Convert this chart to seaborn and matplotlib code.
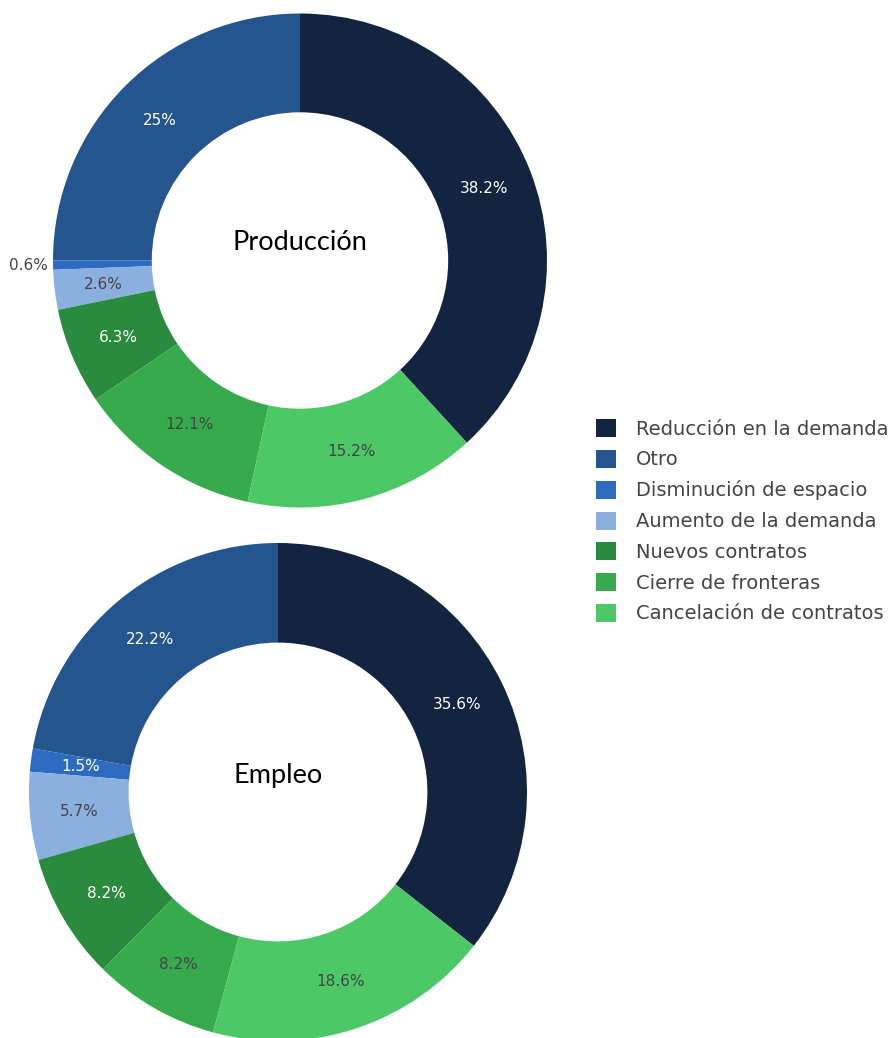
import matplotlib
matplotlib.use("Agg")
import matplotlib.pyplot as plt
from matplotlib.patches import Patch
import seaborn as sns
import numpy as np

categories = ["Reducción en la demanda", "Otro", "Disminución de espacio",
              "Aumento de la demanda", "Nuevos contratos", "Cierre de fronteras",
              "Cancelación de contratos"]
produccion = [38.2, 25.0, 0.6, 2.6, 6.3, 12.1, 15.2]
empleo = [35.6, 22.2, 1.5, 5.7, 8.2, 8.2, 18.6]
titles = ["Producción", "Empleo"]
colors = ["#12243f", "#24558f", "#2c6bbf", "#8bb0e0", "#2a8a3e", "#37aa4e", "#4cc866"]
text_colors = ["white", "white", "white", "#444444", "white", "#444444", "#444444"]

sns.set_theme(style="white")
palette = sns.color_palette(colors)
plt.rcParams['font.family'] = ['DejaVu Sans']

W, H = 894, 1038
fig = plt.figure(figsize=(W / 100, H / 100), dpi=100)
ax = fig.add_axes([0, 0, 1, 1])

hole = 0.6
donuts = [
    dict(values=produccion, center=(300, H - 260.5), r=247, title_y=H - 242),
    dict(values=empleo, center=(278, H - 792), r=249, title_y=H - 776),
]

for d, title in zip(donuts, titles):
    vals = d["values"]
    total = sum(vals)
    start = 90 - 360 * vals[0] / total
    wedges, _ = ax.pie(vals, colors=palette, startangle=start, counterclock=True,
                       radius=d["r"], center=d["center"],
                       wedgeprops=dict(width=d["r"] * (1 - hole), linewidth=0))
    cx, cy = d["center"]
    for w, v, tc in zip(wedges, vals, text_colors):
        mid = np.deg2rad((w.theta1 + w.theta2) / 2)
        label = f"{v:g}%"
        frac = v / total
        if frac < 0.01:
            rr = d["r"] * 1.0
            x = cx + rr * np.cos(mid)
            y = cy + rr * np.sin(mid)
            ax.text(x - 5, y, label, ha='right', va='center', fontsize=11, color="#444444")
        else:
            rr = d["r"] * (1 + hole) / 2
            x = cx + rr * np.cos(mid)
            y = cy + rr * np.sin(mid)
            ax.text(x, y, label, ha='center', va='center', fontsize=11, color=tc)
    ax.text(cx, d["title_y"], title, ha='center', va='center', fontsize=19.5,
            family=['Lato', 'DejaVu Sans'], color='black')

ax.set_xlim(0, W)
ax.set_ylim(0, H)
ax.set_aspect('equal')
ax.axis('off')

handles = [Patch(facecolor=c, edgecolor='none', label=l) for c, l in zip(palette, categories)]
leg = ax.legend(handles=handles, loc='upper left', bbox_to_anchor=(596 / W, 1 - 419 / H),
                bbox_transform=fig.transFigure, frameon=False, fontsize=14,
                handlelength=1.05, handleheight=1.05, handletextpad=1.0,
                labelspacing=0.57, borderaxespad=0, borderpad=0)
for t in leg.get_texts():
    t.set_color("#444444")

fig.savefig("out.png", dpi=100)
